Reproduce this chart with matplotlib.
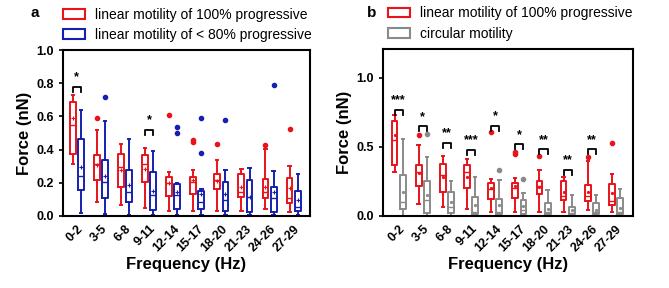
import numpy as np
import matplotlib.pyplot as plt
from matplotlib.patches import Rectangle

plt.rcParams['font.family'] = ['Liberation Sans', 'DejaVu Sans']

freq = ['0-2', '3-5', '6-8', '9-11', '12-14', '15-17', '18-20', '21-23', '24-26', '27-29']

# box stats: whislo, q1, median, q3, whishi, mean
lin100_lo = [0.316, 0.086, 0.066, 0.050, 0.030, 0.032, 0.032, 0.030, 0.040, 0.026]
lin100_q1 = [0.372, 0.216, 0.176, 0.206, 0.122, 0.132, 0.160, 0.116, 0.106, 0.080]
lin100_med = [0.547, 0.316, 0.296, 0.316, 0.196, 0.206, 0.216, 0.146, 0.146, 0.106]
lin100_q3 = [0.689, 0.366, 0.376, 0.370, 0.236, 0.236, 0.252, 0.256, 0.226, 0.230]
lin100_hi = [0.729, 0.517, 0.436, 0.410, 0.266, 0.276, 0.336, 0.282, 0.402, 0.302]
lin100_mean = [0.588, 0.310, 0.280, 0.286, 0.200, 0.216, 0.212, 0.176, 0.176, 0.166]
lin100_out = [[], [0.588], [], [], [0.608], [0.460, 0.446], [0.432], [], [0.426], [0.527]]

lin80_lo = [0.020, 0.010, 0.006, 0.004, 0.004, 0.004, 0.004, 0.004, 0.004, 0.004]
lin80_q1 = [0.156, 0.106, 0.086, 0.036, 0.042, 0.040, 0.032, 0.026, 0.022, 0.032]
lin80_med = [0.242, 0.202, 0.146, 0.126, 0.126, 0.086, 0.096, 0.116, 0.106, 0.056]
lin80_q3 = [0.467, 0.340, 0.280, 0.266, 0.192, 0.152, 0.202, 0.220, 0.176, 0.150]
lin80_hi = [0.638, 0.574, 0.462, 0.392, 0.196, 0.162, 0.280, 0.292, 0.270, 0.256]
lin80_mean = [0.296, 0.240, 0.186, 0.152, 0.146, 0.132, 0.130, 0.116, 0.146, 0.096]
lin80_out = [[], [0.719], [], [], [0.537, 0.503], [0.588, 0.380], [0.578], [], [0.790], []]

circ_lo = [0.0, 0.0, 0.0, 0.0, 0.0, 0.0, 0.0, 0.0, 0.0, 0.0]
circ_q1 = [0.051, 0.024, 0.019, 0.015, 0.015, 0.015, 0.012, 0.012, 0.012, 0.012]
circ_med = [0.104, 0.117, 0.068, 0.032, 0.027, 0.044, 0.032, 0.024, 0.032, 0.032]
circ_q3 = [0.299, 0.250, 0.172, 0.136, 0.124, 0.117, 0.092, 0.063, 0.092, 0.129]
circ_hi = [0.556, 0.427, 0.250, 0.279, 0.262, 0.165, 0.190, 0.153, 0.153, 0.194]
circ_mean = [0.177, 0.153, 0.104, 0.080, 0.080, 0.073, 0.049, 0.044, 0.044, 0.056]
circ_out = [[], [0.595], [], [], [0.335], [0.267], [], [], [], []]

# significance: (group index, bracket height, label)
sig_a = [(0, 0.78, '*'), (3, 0.52, '*')]
sig_b = [(0, 0.77, '***'), (1, 0.65, '*'), (2, 0.53, '**'), (3, 0.48, '***'),
         (4, 0.655, '*'), (5, 0.52, '*'), (6, 0.485, '**'), (7, 0.335, '**'),
         (8, 0.485, '**')]


def stats(lo, q1, med, q3, hi, mean, out):
    return [dict(whislo=lo[i], q1=q1[i], med=med[i], q3=q3[i], whishi=hi[i],
                 mean=mean[i], fliers=out[i]) for i in range(len(lo))]


def draw(ax, st, pos, color, meanmarker):
    ax.bxp(st, positions=pos, widths=0.24, showmeans=True, patch_artist=False,
           boxprops=dict(color=color, lw=1.4),
           whiskerprops=dict(color=color, lw=1.4),
           capprops=dict(color=color, lw=1.4),
           medianprops=dict(color=color, lw=1.0),
           meanprops=dict(marker=meanmarker, markeredgecolor=color, markerfacecolor=color,
                          markersize=3, markeredgewidth=0.8),
           flierprops=dict(marker='o', markerfacecolor=color, markeredgecolor=color,
                           markersize=3),
           capwidths=0.1, manage_ticks=False)


def brackets(ax, sig, off):
    top = ax.get_ylim()[1]
    for i, h, lab in sig:
        ax.plot([i - off, i - off, i + off, i + off],
                [h - 0.03 * top, h, h, h - 0.03 * top], color='black', lw=1.3)
        ax.text(i, h + 0.02 * top, lab, ha='center', va='bottom',
                fontsize=9, fontweight='bold')


def style(ax, ylim, yticks):
    ax.set_ylim(*ylim)
    ax.set_yticks(yticks)
    ax.set_xticks(range(len(freq)))
    ax.set_xticklabels(freq, rotation=45, ha='right', rotation_mode='anchor',
                       fontsize=9, fontweight='bold')
    for t in ax.get_yticklabels():
        t.set_fontweight('bold')
        t.set_fontsize(9)
    ax.tick_params(direction='out', length=3, width=1.2)
    ax.tick_params(axis='x', length=0, pad=5)
    for s in ax.spines.values():
        s.set_linewidth(1.5)
    ax.set_xlabel('Frequency (Hz)', fontsize=12, fontweight='bold', labelpad=2)
    ax.set_ylabel('Force (nN)', fontsize=12, fontweight='bold', labelpad=3)


fig = plt.figure(figsize=(6.69, 2.88), dpi=100)
ax1 = fig.add_axes([0.094, 0.25, 0.369, 0.576])
ax2 = fig.add_axes([0.572, 0.25, 0.374, 0.58])

x = np.arange(len(freq))
off = 0.17

red = '#e8131b'
blue = '#1520b0'
gray = '#8a8a8a'

draw(ax1, stats(lin100_lo, lin100_q1, lin100_med, lin100_q3, lin100_hi, lin100_mean, lin100_out),
     x - off, red, '+')
draw(ax1, stats(lin80_lo, lin80_q1, lin80_med, lin80_q3, lin80_hi, lin80_mean, lin80_out),
     x + off, blue, '+')
ax1.set_xlim(-0.58, 9.67)
style(ax1, (0, 1.0), [0.0, 0.2, 0.4, 0.6, 0.8, 1.0])
ax1.yaxis.set_major_formatter(plt.FormatStrFormatter('%.1f'))
brackets(ax1, sig_a, off)

draw(ax2, stats(lin100_lo, lin100_q1, lin100_med, lin100_q3, lin100_hi, lin100_mean, lin100_out),
     x - off, red, '.')
draw(ax2, stats(circ_lo, circ_q1, circ_med, circ_q3, circ_hi, circ_mean, circ_out),
     x + off, gray, '.')
ax2.set_xlim(-0.66, 9.7)
style(ax2, (0, 1.21), [0.0, 0.5, 1.0])
ax2.yaxis.set_major_formatter(plt.FormatStrFormatter('%.1f'))
brackets(ax2, sig_b, off)

h_red = Rectangle((0, 0), 1, 1, facecolor='none', edgecolor=red, lw=1.5)
h_blue = Rectangle((0, 0), 1, 1, facecolor='none', edgecolor=blue, lw=1.5)
h_gray = Rectangle((0, 0), 1, 1, facecolor='none', edgecolor=gray, lw=1.5)
leg_kw = dict(frameon=False, fontsize=10, handlelength=1.6, handleheight=0.7,
              handletextpad=0.7, labelspacing=0.45, borderaxespad=0, borderpad=0)
ax1.legend([h_red, h_blue], ['linear motility of 100% progressive',
                             'linear motility of < 80% progressive'],
           loc='lower left', bbox_to_anchor=(0.0, 1.05), **leg_kw)
ax2.legend([h_red, h_gray], ['linear motility of 100% progressive', 'circular motility'],
           loc='lower left', bbox_to_anchor=(0.02, 1.05), **leg_kw)

fig.text(0.045, 0.955, 'a', fontsize=11, fontweight='bold', va='center')
fig.text(0.548, 0.955, 'b', fontsize=11, fontweight='bold', va='center')

fig.savefig('out.png', dpi=100)
